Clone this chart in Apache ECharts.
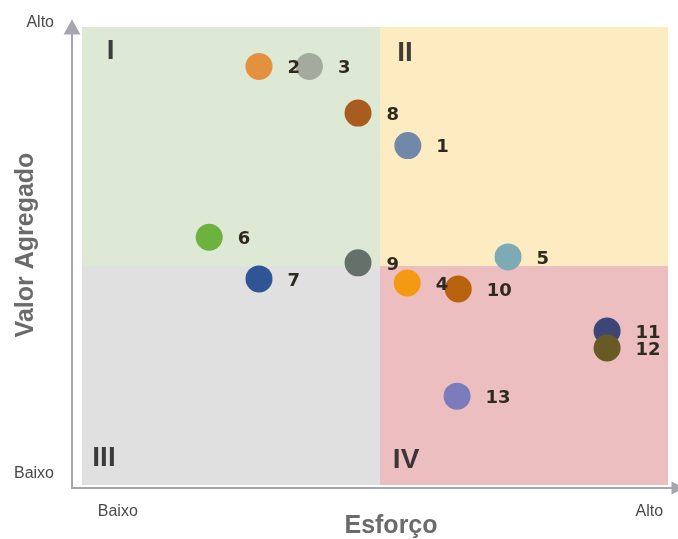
<!DOCTYPE html>
<html>
<head>
<meta charset="utf-8">
<script src="https://cdn.jsdelivr.net/npm/echarts@6/dist/echarts.min.js"></script>
<style>
  html, body { margin: 0; padding: 0; background: #ffffff; }
  #chart { width: 678px; height: 539px; }
</style>
</head>
<body>
<div id="chart"></div>
<script>
// Priority matrix: effort (Esforço) against added value (Valor Agregado)
const pointNames = ['1', '2', '3', '4', '5', '6', '7', '8', '9', '10', '11', '12', '13'];
const esforco    = [55.6, 30.2, 38.8, 55.5, 72.7, 21.7, 30.2, 47.1, 47.1, 64.2, 89.6, 89.6, 64.0];
const valor      = [74.1, 91.4, 91.4, 44.1, 49.8, 54.1, 45.0, 81.2, 48.5, 42.8, 33.6, 29.9, 19.4];
const pointColors = ['#7089a9', '#e3913f', '#a3ab9e', '#f39a12', '#7eaab5', '#6db23f', '#2f5597',
                     '#a85c1f', '#66706a', '#b8620e', '#3d4677', '#675a24', '#7c7cbc'];

// Quadrants and their roman-numeral tags
const X_SPLIT = 50.85;
const Y_SPLIT = 47.8;
const quadrantNames  = ['I', 'II', 'III', 'IV'];
const quadrantColors = ['#dde8d5', '#fdebc2', '#e0e0e0', '#edbec0'];
const quadrantTagX   = [4.9, 55.1, 3.75, 55.3];
const quadrantTagY   = [94.8, 94.3, 5.9, 5.5];

// Axis end labels
const xTickValues = [6.1, 96.8];
const xTickLabels = ['Baixo', 'Alto'];
const yTickValues = [0.7, 99.2];
const yTickLabels = ['Baixo', 'Alto'];

const X_MIN = -1.71, X_MAX = 101.7, Y_MIN = -0.655, Y_MAX = 100;

function tickText(values, labels) {
  return function (v) {
    for (let i = 0; i < values.length; i++) {
      if (Math.abs(values[i] - v) < 1e-6) return labels[i];
    }
    return '';
  };
}

const axisLineStyle = { color: '#a6a6ae', width: 2 };
const labelFont = { fontFamily: '"Liberation Sans", Arial, sans-serif', fontSize: 16, color: '#4a4a4a' };

const chart = echarts.init(document.getElementById('chart'), null, { renderer: 'canvas' });

chart.setOption({
  backgroundColor: '#ffffff',
  animation: false,
  grid: { left: 72, right: 0, top: 27, bottom: 51, containLabel: false },
  xAxis: {
    type: 'value',
    min: X_MIN,
    max: X_MAX,
    axisLine: { show: true, onZero: false, symbol: ['none', 'triangle'], symbolSize: [13, 13], lineStyle: axisLineStyle },
    axisTick: { show: false },
    splitLine: { show: false },
    axisLabel: Object.assign({
      customValues: xTickValues,
      formatter: tickText(xTickValues, xTickLabels),
      margin: 16
    }, labelFont)
  },
  yAxis: {
    type: 'value',
    min: Y_MIN,
    max: Y_MAX,
    axisLine: { show: true, onZero: false, symbol: ['none', 'triangle'], symbolSize: [17, 15], lineStyle: axisLineStyle },
    axisTick: { show: false },
    splitLine: { show: false },
    axisLabel: Object.assign({
      customValues: yTickValues,
      formatter: tickText(yTickValues, yTickLabels),
      margin: 18,
      verticalAlign: 'bottom'
    }, labelFont)
  },
  graphic: [
    {
      type: 'text', x: 391, y: 526,
      style: { text: 'Esforço', align: 'center', verticalAlign: 'middle',
               font: 'bold 25px "Liberation Sans", Arial, sans-serif', fill: '#6b6b6b' }
    },
    {
      type: 'text', x: 26, y: 245, rotation: Math.PI / 2,
      style: { text: 'Valor Agregado', align: 'center', verticalAlign: 'middle',
               font: 'bold 25px "Liberation Sans", Arial, sans-serif', fill: '#6b6b6b' }
    }
  ],
  series: [
    {
      name: 'quadrantes',
      type: 'scatter',
      z: 1,
      symbolSize: 1,
      itemStyle: { color: 'rgba(0,0,0,0)' },
      silent: true,
      data: quadrantNames.map((n, i) => ({ name: n, value: [quadrantTagX[i], quadrantTagY[i]] })),
      label: {
        show: true, position: 'inside', formatter: '{b}',
        fontFamily: '"Liberation Sans", Arial, sans-serif', fontWeight: 'bold', fontSize: 28, color: '#111111'
      },
      markArea: {
        silent: true,
        itemStyle: { opacity: 1 },
        data: [
          [{ xAxis: 0, yAxis: Y_SPLIT, itemStyle: { color: quadrantColors[0] } }, { xAxis: X_SPLIT, yAxis: 100 }],
          [{ xAxis: X_SPLIT, yAxis: Y_SPLIT, itemStyle: { color: quadrantColors[1] } }, { xAxis: 100, yAxis: 100 }],
          [{ xAxis: 0, yAxis: 0, itemStyle: { color: quadrantColors[2] } }, { xAxis: X_SPLIT, yAxis: Y_SPLIT }],
          [{ xAxis: X_SPLIT, yAxis: 0, itemStyle: { color: quadrantColors[3] } }, { xAxis: 100, yAxis: Y_SPLIT }]
        ]
      }
    },
    {
      name: 'itens',
      type: 'scatter',
      z: 3,
      symbolSize: 27,
      itemStyle: { opacity: 1 },
      data: pointNames.map((n, i) => ({
        name: n,
        value: [esforco[i], valor[i]],
        itemStyle: { color: pointColors[i], opacity: 1 }
      })),
      label: {
        show: true, position: 'right', distance: 15, offset: [0, 2], formatter: '{b}',
        fontFamily: '"DejaVu Sans", sans-serif', fontWeight: 'bold', fontSize: 18, color: '#2e2a20'
      },
      emphasis: { disabled: true }
    }
  ]
});
</script>
</body>
</html>
